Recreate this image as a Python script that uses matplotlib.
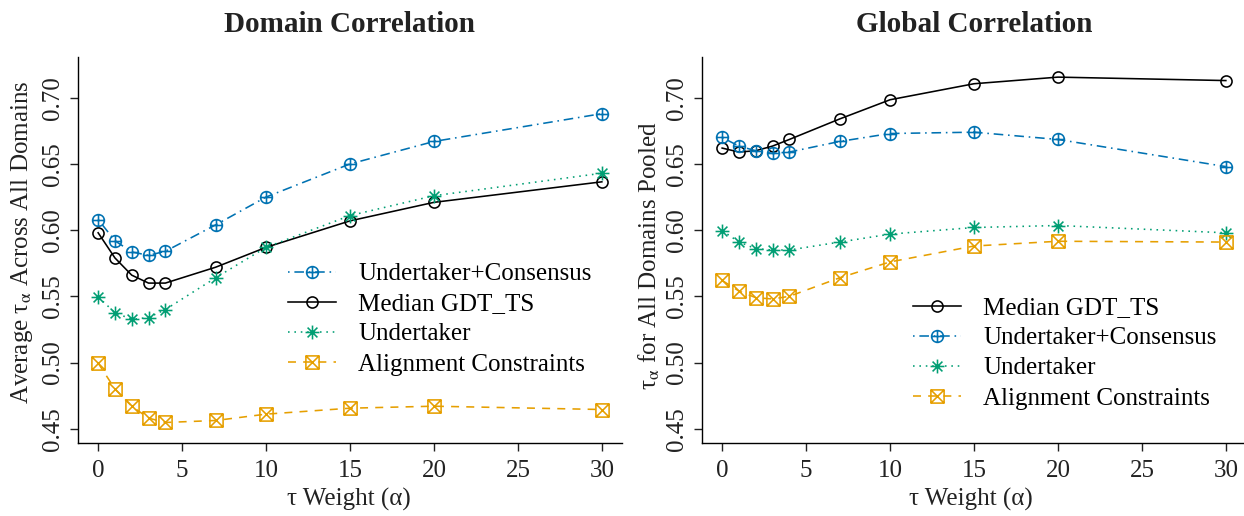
import numpy as np
import matplotlib
matplotlib.use("Agg")
import matplotlib.pyplot as plt
from matplotlib.path import Path

plt.rcParams['font.family'] = ['Liberation Serif', 'DejaVu Serif']
plt.rcParams['mathtext.fontset'] = 'stix'

# tau weights (x axis)
alpha = [0, 1, 2, 3, 4, 7, 10, 15, 20, 30]

# Domain correlation (left panel)
dom_uc = [0.608, 0.592, 0.5835, 0.581, 0.584, 0.604, 0.625, 0.650, 0.667, 0.688]
dom_med = [0.598, 0.579, 0.566, 0.560, 0.560, 0.572, 0.587, 0.607, 0.621, 0.6365]
dom_und = [0.5495, 0.5377, 0.5326, 0.534, 0.540, 0.564, 0.587, 0.611, 0.626, 0.643]
dom_aln = [0.4996, 0.480, 0.467, 0.458, 0.4547, 0.4562, 0.461, 0.4655, 0.467, 0.4645]

# Global correlation (right panel)
glo_med = [0.662, 0.659, 0.660, 0.6635, 0.6685, 0.684, 0.6985, 0.7106, 0.7156, 0.713]
glo_uc = [0.670, 0.6635, 0.660, 0.658, 0.659, 0.667, 0.673, 0.674, 0.6685, 0.648]
glo_und = [0.5997, 0.591, 0.586, 0.585, 0.585, 0.591, 0.597, 0.602, 0.6035, 0.598]
glo_aln = [0.562, 0.554, 0.549, 0.548, 0.550, 0.564, 0.576, 0.588, 0.5916, 0.591]

xticks = [0, 5, 10, 15, 20, 25, 30]
yticks = [0.45, 0.50, 0.55, 0.60, 0.65, 0.70]

BLUE = '#0072B2'
GREEN = '#009E73'
ORANGE = '#E69F00'
BLACK = '#000000'

# R-like point symbols
M, L = Path.MOVETO, Path.LINETO
circ = Path.unit_circle()
plus = Path([[-1, 0], [1, 0], [0, -1], [0, 1]], [M, L, M, L])
circle_plus = Path.make_compound_path(circ, plus)
d = 0.72
sq = Path([[-d, -d], [d, -d], [d, d], [-d, d], [-d, -d]], [M, L, L, L, Path.CLOSEPOLY])
xx = Path([[-d, -d], [d, d], [-d, d], [d, -d]], [M, L, M, L])
square_x = Path.make_compound_path(sq, xx)
s = 0.7071
star = Path([[-1, 0], [1, 0], [0, -1], [0, 1], [-s, -s], [s, s], [-s, s], [s, -s]],
            [M, L, M, L, M, L, M, L])

styles = {
    'uc': dict(color=BLUE, ls=(0, (1, 3, 6, 3)), marker=circle_plus, ms=8.5),
    'med': dict(color=BLACK, ls='-', marker='o', ms=8),
    'und': dict(color=GREEN, ls=(0, (1, 3)), marker=star, ms=10),
    'aln': dict(color=ORANGE, ls=(0, (5, 4.5)), marker=square_x, ms=9.5),
}
names = {'uc': 'Undertaker+Consensus', 'med': 'Median GDT_TS',
         'und': 'Undertaker', 'aln': 'Alignment Constraints'}

FS = 18
W, H = 1244, 516
fig = plt.figure(figsize=(W / 100, H / 100), dpi=100)
ax1 = fig.add_axes([78 / W, (516 - 443) / H, 544 / W, 386 / H])
ax2 = fig.add_axes([702 / W, (516 - 443) / H, 544 / W, 386 / H])


def draw(ax, key, vals):
    st = styles[key]
    ax.plot(alpha, vals, color=st['color'], linestyle=st['ls'], lw=1.15,
            marker=st['marker'], markersize=st['ms'], markeredgewidth=1.15,
            markerfacecolor='none', markeredgecolor=st['color'],
            label=names[key], clip_on=False)


draw(ax1, 'uc', dom_uc)
draw(ax1, 'med', dom_med)
draw(ax1, 'und', dom_und)
draw(ax1, 'aln', dom_aln)

draw(ax2, 'med', glo_med)
draw(ax2, 'uc', glo_uc)
draw(ax2, 'und', glo_und)
draw(ax2, 'aln', glo_aln)

for ax in (ax1, ax2):
    ax.set_xlim(-1.2, 31.2)
    ax.set_ylim(0.4392, 0.7308)
    ax.spines['top'].set_visible(False)
    ax.spines['right'].set_visible(False)
    ax.spines['left'].set_linewidth(1.0)
    ax.spines['bottom'].set_linewidth(1.0)
    ax.set_xticks(xticks)
    ax.set_yticks(yticks)
    ax.set_yticklabels(['%.2f' % v for v in yticks], rotation=90, va='center')
    ax.tick_params(axis='both', direction='out', length=6, width=1.0,
                   labelsize=FS, color='#222222', labelcolor='#222222')
    ax.tick_params(axis='x', pad=6)
    ax.tick_params(axis='y', pad=4)
    ax.legend(loc='upper left', frameon=False, fontsize=FS, numpoints=1,
              handlelength=1.9, handletextpad=0.9, labelspacing=0.3,
              borderaxespad=0)

ax1.get_legend().set_bbox_to_anchor((278 / W, 1 - 253 / H), transform=fig.transFigure)
ax2.get_legend().set_bbox_to_anchor((903 / W, 1 - 287 / H), transform=fig.transFigure)

txt = dict(color='#222222', ha='center', va='center')
fig.text(350 / W, 1 - 24 / H, 'Domain Correlation', fontsize=21,
         fontweight='bold', **txt)
fig.text(974 / W, 1 - 24 / H, 'Global Correlation', fontsize=21,
         fontweight='bold', **txt)
fig.text(349 / W, 1 - 499 / H, 'τ Weight (α)', fontsize=FS, **txt)
fig.text(971 / W, 1 - 499 / H, 'τ Weight (α)', fontsize=FS, **txt)
fig.text(22 / W, 1 - 242 / H, r'Average τ$_{\mathrm{α}}$ Across All Domains',
         fontsize=FS, rotation=90, **txt)
fig.text(649 / W, 1 - 256 / H, r'τ$_{\mathrm{α}}$ for All Domains Pooled',
         fontsize=FS, rotation=90, **txt)

fig.savefig('out.png', dpi=100, facecolor='white')
